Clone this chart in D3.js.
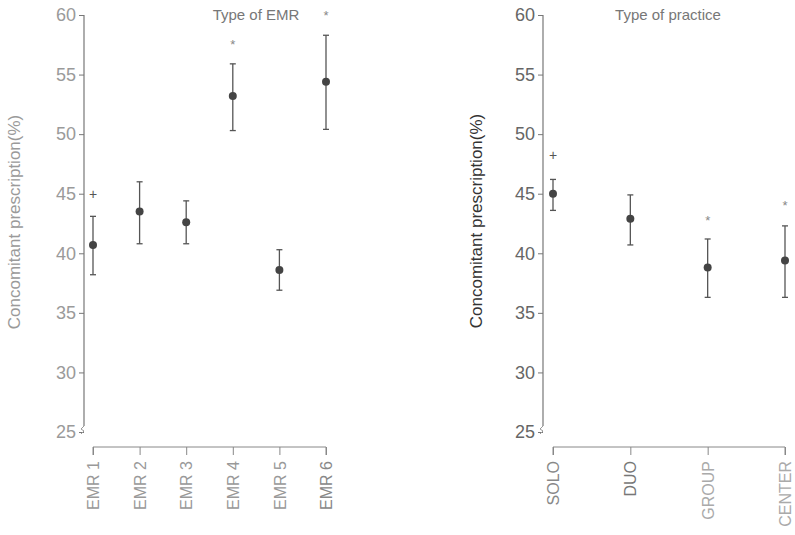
<!DOCTYPE html>
<html><head><meta charset="utf-8">
<script src="https://cdn.jsdelivr.net/npm/d3@7/dist/d3.min.js"></script>
<style>body{margin:0;background:#fff}svg{display:block;font-family:Arial,"Liberation Sans",sans-serif}</style>
</head><body><svg id="c" width="795" height="535"></svg>
<script>
const emrCats = ["EMR 1","EMR 2","EMR 3","EMR 4","EMR 5","EMR 6"];
const emrMean = [40.7, 43.5, 42.6, 53.2, 38.6, 54.4];
const emrLow  = [38.2, 40.8, 40.8, 50.3, 36.9, 50.4];
const emrHigh = [43.1, 46.0, 44.4, 55.9, 40.3, 58.3];
const emrMark = ["+", "", "", "*", "", "*"];
const emrMarkY = [45.0, null, null, 57.8, null, 60.2];

const pracCats = ["SOLO","DUO","GROUP","CENTER"];
const pracMean = [45.0, 42.9, 38.8, 39.4];
const pracLow  = [43.6, 40.7, 36.3, 36.3];
const pracHigh = [46.2, 44.9, 41.2, 42.3];
const pracMark = ["+", "", "*", "*"];
const pracMarkY = [48.2, null, 43.0, 44.3];

const yTicks = [25,30,35,40,45,50,55,60];

const svg = d3.select("#c");

function panel(opt){
  const g = svg.append("g");
  const y = d3.scaleLinear().domain([25,60]).range([432,15]);
  const x = d3.scalePoint().domain(opt.cats).range([opt.x0, opt.x1]);
  // y axis
  const ya = g.append("g").attr("transform",`translate(${opt.ax},0)`)
    .call(d3.axisLeft(y).tickValues(yTicks).tickSize(5).tickPadding(3));
  ya.select(".domain").remove();
  ya.selectAll(".tick line").attr("stroke","#777");
  ya.selectAll(".tick text").attr("fill",opt.tickCol).attr("font-size",18);
  g.append("line").attr("x1",opt.ax).attr("x2",opt.ax).attr("y1",y(60)).attr("y2",y(25)-6)
    .attr("stroke","#777").attr("stroke-width",1.2);
  // break symbol
  g.append("path").attr("d",`M${opt.ax},${y(25)-6} l-3,3 l3,2 l-3,3`)
    .attr("fill","none").attr("stroke","#999").attr("stroke-width",1);
  // x axis
  const xa = g.append("g").attr("transform",`translate(0,447)`)
    .call(d3.axisBottom(x).tickSize(8).tickSizeOuter(0).tickPadding(6));
  xa.select(".domain").attr("stroke","#888").attr("d",`M${opt.x0},8V0H${opt.x1}V8`);
  xa.selectAll(".tick line").attr("stroke","#888");
  xa.selectAll(".tick text").attr("transform","rotate(-90)").attr("text-anchor","end")
    .attr("x",-14).attr("y",0).attr("dy","0.35em").attr("font-size",16)
    .attr("fill",(d,i)=>opt.xCols[i]);
  // y label
  g.append("text").attr("transform",`translate(${opt.lx},${opt.ly}) rotate(-90)`)
    .attr("text-anchor","middle").attr("font-size",17).attr("fill",opt.labCol)
    .text("Concomitant prescription(%)");
  // title
  g.append("text").attr("x",opt.tx).attr("y",20).attr("text-anchor","middle")
    .attr("font-size",15).attr("fill","#777").text(opt.title);
  // error bars
  opt.cats.forEach((c,i)=>{
    const cx = x(c);
    g.append("line").attr("x1",cx).attr("x2",cx).attr("y1",y(opt.low[i])).attr("y2",y(opt.high[i]))
      .attr("stroke","#555").attr("stroke-width",1.3);
    [opt.low[i],opt.high[i]].forEach(v=>{
      g.append("line").attr("x1",cx-3).attr("x2",cx+3).attr("y1",y(v)).attr("y2",y(v))
        .attr("stroke","#555").attr("stroke-width",1.3);
    });
    g.append("circle").attr("cx",cx).attr("cy",y(opt.mean[i])).attr("r",4).attr("fill","#444");
    if(opt.mark[i]){
      g.append("text").attr("x",cx).attr("y",y(opt.markY[i])).attr("text-anchor","middle")
        .attr("dy",opt.mark[i]==="*"?"0.6em":"0.35em")
        .attr("font-size",opt.mark[i]==="*"?13:14).attr("fill",opt.mark[i]==="+"?"#555":"#888")
        .text(opt.mark[i]);
    }
  });
}

panel({cats:emrCats, mean:emrMean, low:emrLow, high:emrHigh, mark:emrMark, markY:emrMarkY,
  ax:84, x0:93, x1:326, lx:20, ly:222, tx:256, title:"Type of EMR",
  tickCol:"#9a9a9a", labCol:"#9a9a9a", xCols:["#999","#999","#999","#999","#999","#888"]});
panel({cats:pracCats, mean:pracMean, low:pracLow, high:pracHigh, mark:pracMark, markY:pracMarkY,
  ax:543, x0:553, x1:785, lx:482, ly:221, tx:668, title:"Type of practice",
  tickCol:"#666", labCol:"#333", xCols:["#888","#777","#aaa","#aaa"]});
</script></body></html>
